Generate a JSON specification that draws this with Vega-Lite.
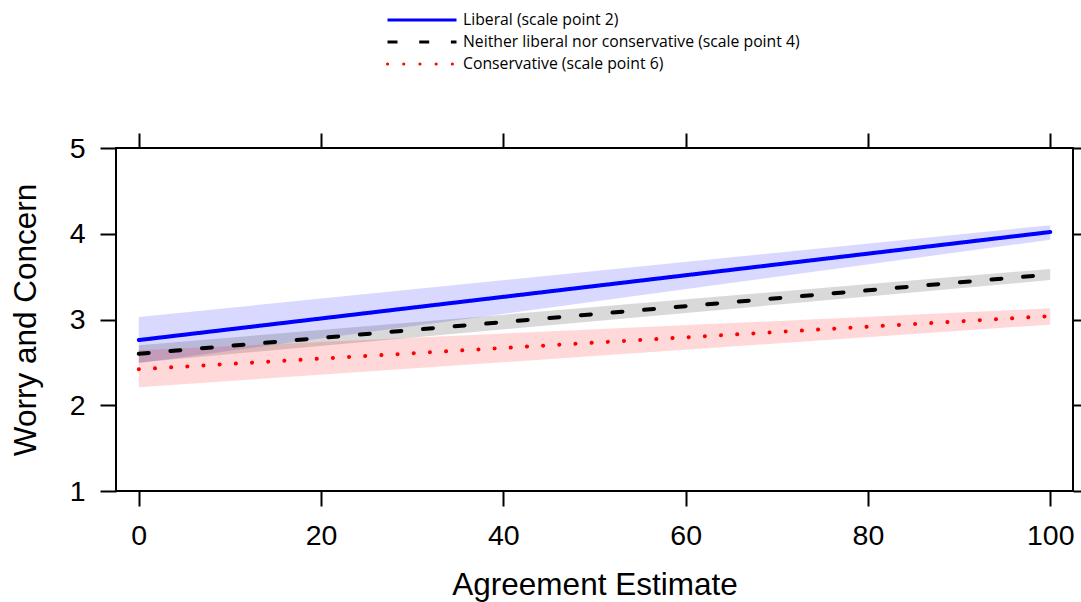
{
  "$schema": "https://vega.github.io/schema/vega-lite/v6.json",
  "width": 957,
  "height": 343,
  "autosize": {"type": "none"},
  "padding": {"left": 116, "top": 148, "right": 8, "bottom": 111},
  "background": "white",
  "data": {
    "values": [
      {"x": 0, "group": "Liberal (scale point 2)", "y": 2.76, "lo": 2.49, "hi": 3.03},
      {"x": 100, "group": "Liberal (scale point 2)", "y": 4.02, "lo": 3.93, "hi": 4.10},
      {"x": 0, "group": "Neither liberal nor conservative (scale point 4)", "y": 2.60, "lo": 2.50, "hi": 2.70},
      {"x": 100, "group": "Neither liberal nor conservative (scale point 4)", "y": 3.525, "lo": 3.46, "hi": 3.59},
      {"x": 0, "group": "Conservative (scale point 6)", "y": 2.42, "lo": 2.21, "hi": 2.64},
      {"x": 100, "group": "Conservative (scale point 6)", "y": 3.04, "lo": 2.94, "hi": 3.13}
    ]
  },
  "layer": [
    {
      "mark": {"type": "area", "fillOpacity": 0.15, "interpolate": "linear"},
      "encoding": {
        "x": {
          "field": "x", "type": "quantitative",
          "scale": {"domain": [-2.5, 102.5], "nice": false, "zero": false},
          "axis": {
            "orient": "bottom", "values": [0, 20, 40, 60, 80, 100], "title": "Agreement Estimate",
            "domain": false, "grid": false, "tickSize": 15, "tickWidth": 2, "tickColor": "black",
            "labelFont": "Liberation Sans", "labelFontSize": 28.5, "labelColor": "black", "labelPadding": 15,
            "labelFlush": false, "labelOverlap": false,
            "titleFont": "Liberation Sans", "titleFontSize": 31.5, "titleFontWeight": "normal", "titleColor": "black",
            "titleBaseline": "alphabetic", "titleY": 103, "titleX": 478.5
          }
        },
        "y": {
          "field": "lo", "type": "quantitative",
          "scale": {"domain": [1, 5], "nice": false, "zero": false},
          "axis": {
            "orient": "left", "values": [1, 2, 3, 4, 5], "title": "Worry and Concern",
            "domain": false, "grid": false, "tickSize": 16, "tickWidth": 2, "tickColor": "black",
            "labelFont": "Liberation Sans", "labelFontSize": 28.5, "labelColor": "black", "labelPadding": 15,
            "labelFlush": false, "labelOverlap": false,
            "titleFont": "Liberation Sans", "titleFontSize": 31.5, "titleFontWeight": "normal", "titleColor": "black",
            "titleAngle": -90, "titleBaseline": "alphabetic", "titleX": -81, "titleY": 171.5, "titleAlign": "center"
          }
        },
        "y2": {"field": "hi"},
        "color": {
          "field": "group", "type": "nominal",
          "scale": {
            "domain": ["Liberal (scale point 2)", "Neither liberal nor conservative (scale point 4)", "Conservative (scale point 6)"],
            "range": ["#0000ff", "#000000", "#ff0000"]
          },
          "legend": {
            "title": null, "orient": "none", "legendX": 270, "legendY": -138.75, "direction": "vertical",
            "symbolType": "stroke", "symbolSize": 4761, "symbolStrokeWidth": 3, "symbolFillColor": "transparent",
            "labelFont": "Open Sans", "labelFontSize": 15.75, "labelColor": "black", "labelOffset": 5,
            "rowPadding": 0, "clipHeight": 21.5, "padding": 0, "labelLimit": 600,
            "encode": {
              "symbols": {
                "update": {
                  "strokeCap": {"signal": "datum.value == 'Conservative (scale point 6)' ? 'round' : 'butt'"},
                  "strokeDash": {"signal": "datum.value == 'Neither liberal nor conservative (scale point 4)' ? [11, 13.5] : (datum.value == 'Conservative (scale point 6)' ? [0.5, 10.8] : [1, 0])"}
                }
              }
            }
          }
        }
      }
    },
    {
      "mark": {"type": "line", "strokeWidth": 4, "strokeCap": "round", "interpolate": "linear"},
      "encoding": {
        "x": {
          "field": "x", "type": "quantitative",
          "axis": {
            "orient": "top", "values": [0, 20, 40, 60, 80, 100], "title": null, "labels": false,
            "domain": false, "grid": false, "tickSize": 15, "tickWidth": 2, "tickColor": "black"
          }
        },
        "y": {
          "field": "y", "type": "quantitative",
          "axis": {
            "orient": "right", "values": [1, 2, 3, 4, 5], "title": null, "labels": false,
            "domain": false, "grid": false, "tickSize": 12, "tickWidth": 2, "tickColor": "black"
          }
        },
        "color": {"field": "group", "type": "nominal"},
        "strokeDash": {
          "field": "group", "type": "nominal",
          "scale": {
            "domain": ["Liberal (scale point 2)", "Neither liberal nor conservative (scale point 4)", "Conservative (scale point 6)"],
            "range": [[1, 0], [10, 21.7], [0.1, 16.1]]
          },
          "legend": {
            "title": null, "orient": "none", "legendX": 270, "legendY": -138.75, "direction": "vertical",
            "symbolType": "stroke", "symbolSize": 4761, "symbolStrokeWidth": 3, "symbolFillColor": "transparent",
            "labelFont": "Open Sans", "labelFontSize": 15.75, "labelColor": "black", "labelOffset": 5,
            "rowPadding": 0, "clipHeight": 21.5, "padding": 0, "labelLimit": 600
          }
        }
      }
    }
  ],
  "resolve": {"axis": {"x": "independent", "y": "independent"}},
  "config": {
    "view": {"stroke": "black", "strokeWidth": 2}
  }
}
